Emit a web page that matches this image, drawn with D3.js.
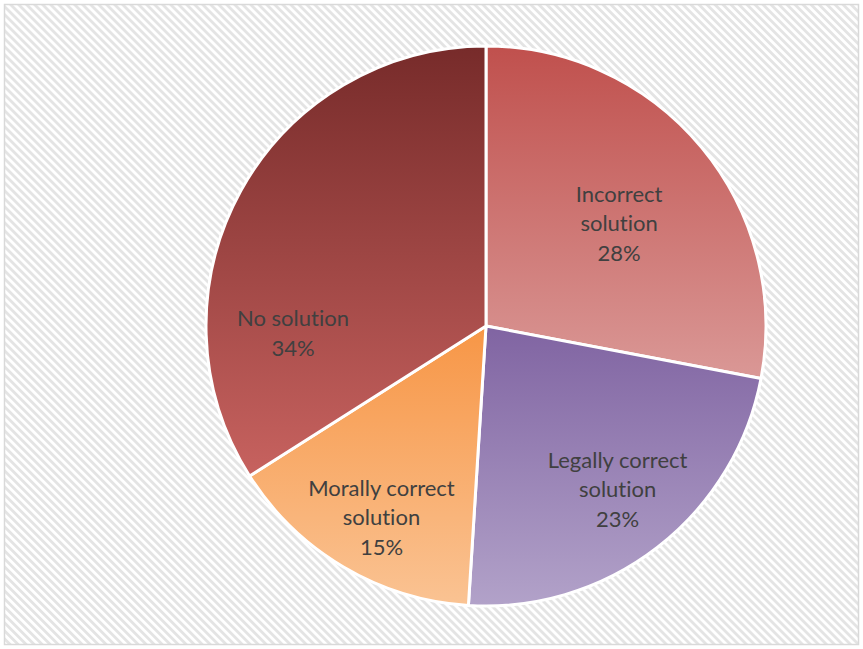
<!DOCTYPE html>
<html>
<head>
<meta charset="utf-8">
<script src="https://cdn.jsdelivr.net/npm/d3@7"></script>
<style>
  html, body { margin: 0; padding: 0; background: #fff; }
  svg { display: block; }
  text { font-variant-ligatures: none; font-feature-settings: "liga" 0; }
</style>
</head>
<body>
<script>
// Survey answers by kind of solution
const categories = ["Incorrect solution", "Legally correct solution", "Morally correct solution", "No solution"];
const labelLines = [["Incorrect", "solution"], ["Legally correct", "solution"], ["Morally correct", "solution"], ["No solution"]];
const values = [28, 23, 15, 34];
const gradTop = ["#C0504D", "#8064A2", "#F79646", "#772B2A"];
const gradBottom = ["#DA9896", "#B2A2C9", "#FAC393", "#C7625F"];
// label placement: fraction of radius and angular shift (degrees) from slice middle
const labelRadius = [0.60, 0.75, 0.78, 0.69];
const labelShift = [2, -1, -2, -31];

const W = 863, H = 649;
const cx = 486, cy = 326, R = 280;

const svg = d3.select("body").append("svg").attr("width", W).attr("height", H);
const defs = svg.append("defs");

// diagonal stripe background
const pat = defs.append("pattern")
  .attr("id", "stripes")
  .attr("patternUnits", "userSpaceOnUse")
  .attr("width", 5.66).attr("height", 5.66)
  .attr("patternTransform", "rotate(45)");
pat.append("rect").attr("width", 5.66).attr("height", 5.66).attr("fill", "#ffffff");
pat.append("rect").attr("width", 5.66).attr("height", 2.83).attr("fill", "#e4e4e4");

svg.append("rect")
  .attr("x", 4.5).attr("y", 4.5).attr("width", 854).attr("height", 640)
  .attr("fill", "url(#stripes)")
  .attr("stroke", "#d9d9d9").attr("stroke-width", 1.5);

categories.forEach((c, i) => {
  const g = defs.append("linearGradient")
    .attr("id", "grad" + i)
    .attr("x1", 0).attr("y1", 0).attr("x2", 0).attr("y2", 1);
  g.append("stop").attr("offset", "0%").attr("stop-color", gradTop[i]);
  g.append("stop").attr("offset", "100%").attr("stop-color", gradBottom[i]);
});

const pie = d3.pie().sort(null).value(d => d.value);
const data = pie(categories.map((c, i) => ({ name: c, value: values[i], i })));
const arc = d3.arc().innerRadius(0).outerRadius(R);

const gPie = svg.append("g").attr("transform", `translate(${cx},${cy})`);

gPie.selectAll("path.slice")
  .data(data)
  .join("path")
  .attr("class", "slice")
  .attr("d", arc)
  .attr("fill", d => `url(#grad${d.data.i})`)
  .attr("stroke", "#ffffff")
  .attr("stroke-width", 3)
  .attr("stroke-linejoin", "round");

const total = d3.sum(values);
const lineH = 29.5;

data.forEach(d => {
  const i = d.data.i;
  const r = R * labelRadius[i];
  const a = (d.startAngle + d.endAngle) / 2 + labelShift[i] * Math.PI / 180;
  const x = Math.sin(a) * r;
  const y = -Math.cos(a) * r;
  const lines = labelLines[i].concat([Math.round(d.data.value / total * 100) + "%"]);
  const t = gPie.append("text")
    .attr("text-anchor", "middle")
    .attr("font-family", "Lato, 'Open Sans', sans-serif")
    .attr("font-size", 22)
    .attr("fill", "#404040");
  const y0 = y - (lines.length - 1) * lineH / 2;
  lines.forEach((ln, k) => {
    t.append("tspan")
      .attr("x", x)
      .attr("y", y0 + k * lineH)
      .attr("dy", "0.35em")
      .text(ln);
  });
});
</script>
</body>
</html>
